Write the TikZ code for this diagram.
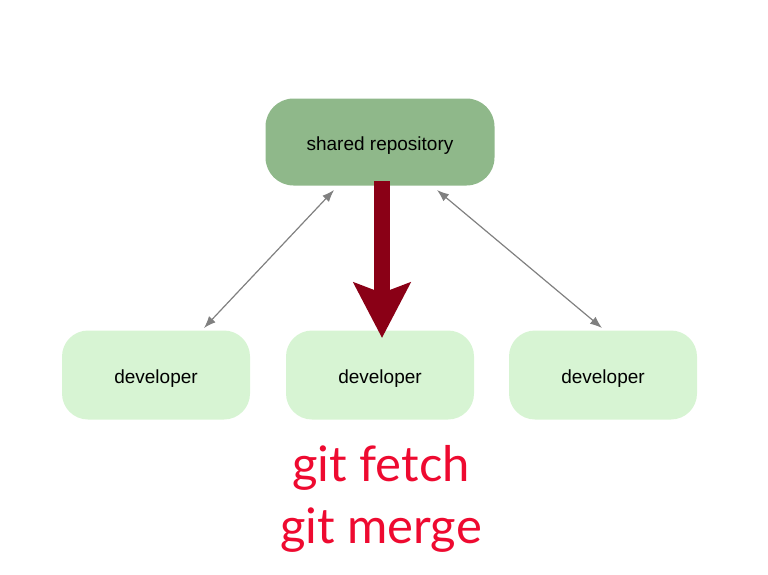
\documentclass[tikz,border=0pt]{standalone}
\usepackage{fontspec}
\setmainfont{Liberation Sans}
\newfontfamily\gitfont{Lato}
\usetikzlibrary{arrows.meta}
\definecolor{repofill}{HTML}{8FB88A}
\definecolor{devfill}{HTML}{D7F4D3}
\definecolor{linkgray}{HTML}{808080}
\definecolor{bigred}{HTML}{8A0016}
\definecolor{cmdred}{HTML}{EE0A30}
\tikzset{
  boxtext/.style={font=\fontsize{19}{22}\selectfont, text height=16.5pt, text depth=0pt},
  repobox/.style={boxtext, fill=repofill, rounded corners=28pt, minimum width=229pt, minimum height=87pt, inner sep=0pt},
  devbox/.style={boxtext, fill=devfill, rounded corners=26pt, minimum width=188pt, minimum height=89pt, inner sep=0pt},
  link/.style={draw=linkgray, line width=1.2pt, {Latex[length=12pt,width=9pt]}-{Latex[length=12pt,width=9pt]}},
  fetcharrow/.style={draw=bigred, line width=16pt, -{Triangle[length=55pt,width=56pt,inset=10pt]}},
  cmd/.style={text=cmdred, font=\gitfont\fontsize{49}{62}\selectfont, align=center}
}
\begin{document}
\begin{tikzpicture}[x=1pt,y=-1pt]
\useasboundingbox (0,0) rectangle (768,574);
\node[repobox] (repo) at (380,142) {shared repository};
\node[devbox] (d1) at (156,375) {developer};
\node[devbox] (d2) at (380,375) {developer};
\node[devbox] (d3) at (603,375) {developer};
\coordinate (rl) at (334,190);
\coordinate (rr) at (437,190);
\coordinate (dl) at (204,328);
\coordinate (dr) at (602,328);
\coordinate (rs) at (382,181);
\coordinate (de) at (382,338);
\draw[link] (dl) -- (rl);
\draw[link] (rr) -- (dr);
\draw[fetcharrow] (rs) -- (de);
\node[cmd] (fetch) at (381,468) {git fetch};
\node[cmd] (merge) at (381,530) {git merge};
\end{tikzpicture}
\end{document}
